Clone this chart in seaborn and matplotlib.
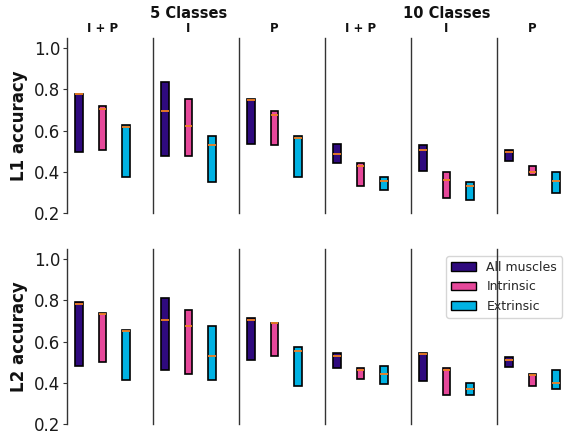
import matplotlib
matplotlib.use("Agg")
import matplotlib.pyplot as plt
from matplotlib.patches import Patch
import seaborn as sns
import pandas as pd

# Muscle groups and their colours
muscles = ["All muscles", "Intrinsic", "Extrinsic"]
colors = ["#2f0a7e", "#e6489a", "#00b2e3"]

# Column groups: number of classes and feature set
class_groups = ["5 Classes", "10 Classes"]
feature_sets = ["I + P", "I", "P"]
metrics = ["L1 accuracy", "L2 accuracy"]

# Accuracy ranges per panel (order: 5C I+P, 5C I, 5C P, 10C I+P, 10C I, 10C P),
# each a list over muscles [All, Intrinsic, Extrinsic]
l1_low = [[0.494, 0.506, 0.376], [0.478, 0.478, 0.353], [0.535, 0.528, 0.376],
          [0.442, 0.333, 0.311], [0.405, 0.273, 0.265], [0.454, 0.385, 0.296]]
l1_med = [[0.776, 0.706, 0.618], [0.696, 0.624, 0.528], [0.751, 0.677, 0.566],
          [0.486, 0.429, 0.356], [0.504, 0.362, 0.332], [0.496, 0.399, 0.356]]
l1_high = [[0.780, 0.719, 0.626], [0.836, 0.755, 0.574], [0.756, 0.696, 0.574],
           [0.537, 0.442, 0.374], [0.528, 0.397, 0.353], [0.507, 0.428, 0.397]]

l2_low = [[0.480, 0.500, 0.413], [0.464, 0.443, 0.413], [0.513, 0.532, 0.384],
          [0.471, 0.421, 0.393], [0.410, 0.342, 0.342], [0.477, 0.385, 0.371]]
l2_med = [[0.781, 0.734, 0.652], [0.703, 0.674, 0.532], [0.703, 0.690, 0.553],
          [0.532, 0.464, 0.444], [0.540, 0.463, 0.371], [0.513, 0.437, 0.400]]
l2_high = [[0.792, 0.740, 0.655], [0.812, 0.755, 0.674], [0.713, 0.693, 0.574],
           [0.545, 0.471, 0.482], [0.545, 0.471, 0.401], [0.524, 0.444, 0.463]]

yticks = [0.2, 0.4, 0.6, 0.8, 1.0]

ranges = {
    "L1 accuracy": (l1_low, l1_med, l1_high),
    "L2 accuracy": (l2_low, l2_med, l2_high),
}


def panel_frame(low, med, high):
    # Five-point samples whose quartiles are the range ends and whose median is med
    rows = []
    for m, lo, md, hi in zip(muscles, low, med, high):
        for v in (lo, lo, md, hi, hi):
            rows.append({"muscle": m, "acc": v})
    return pd.DataFrame(rows)


sns.set_style("white")
plt.rcParams["font.family"] = ["DejaVu Sans"]

W, H = 565, 434
fig = plt.figure(figsize=(W / 100, H / 100), dpi=100)

ax_left = 67
ax_w = 86
rows_px = [(38, 213), (249, 424)]
xlim = (-0.51, 3.15)
# Axes fraction of the middle box centre, where the headers sit
mid_frac = (1 - xlim[0]) / (xlim[1] - xlim[0])

axes = []
for r, metric in enumerate(metrics):
    top, bottom = rows_px[r]
    row_axes = []
    for c in range(6):
        ax = fig.add_axes([(ax_left + c * ax_w) / W, 1 - bottom / H,
                           ax_w / W, (bottom - top) / H])
        ax.set_facecolor("none")
        low, med, high = ranges[metric]
        df = panel_frame(low[c], med[c], high[c])
        sns.boxplot(data=df, x="muscle", y="acc", hue="muscle",
                    order=muscles, hue_order=muscles, palette=colors,
                    saturation=1, width=0.33, whis=0, showcaps=False,
                    showfliers=False, legend=False, linecolor="black",
                    linewidth=1.2,
                    medianprops=dict(color="#f07f22", linewidth=1.3),
                    whiskerprops=dict(linewidth=0), ax=ax)
        ax.set_xlim(*xlim)
        ax.set_ylim(0.2, 1.05)
        ax.set_xticks([])
        ax.set_xlabel("")
        for s in ("top", "right", "bottom"):
            ax.spines[s].set_visible(False)
        ax.spines["left"].set_color("#333333")
        ax.spines["left"].set_linewidth(1.0)
        if c == 0:
            ax.set_yticks(yticks)
            ax.set_yticklabels([f"{t:.1f}" for t in yticks])
            ax.tick_params(axis="y", labelsize=12, length=3, width=0.8,
                           color="#333333", labelcolor="#1a1a1a", left=True,
                           pad=2)
            ax.set_ylabel(metric, fontsize=12, fontweight="bold", labelpad=4,
                          color="#111111")
        else:
            ax.set_yticks([])
            ax.set_ylabel("")
        if r == 0:
            ax.set_title(feature_sets[c % 3], fontsize=8.5, fontweight="bold",
                         pad=4, color="#111111", x=mid_frac)
        row_axes.append(ax)
    axes.append(row_axes)

# Class-group headers above the middle panel of each group
for g, name in enumerate(class_groups):
    cx = (ax_left + (g * 3 + 1) * ax_w + mid_frac * ax_w) / W
    fig.text(cx, 1 - 13 / H, name, ha="center", va="center",
             fontsize=10.5, fontweight="bold", color="#111111")

handles = [Patch(facecolor=col, edgecolor="black", linewidth=1.0, label=m)
           for m, col in zip(muscles, colors)]
axes[1][4].legend(handles=handles, loc="upper right",
                  bbox_to_anchor=(562 / W, 1 - 256 / H),
                  bbox_transform=fig.transFigure, borderaxespad=0,
                  fontsize=9, frameon=True, framealpha=0.8)

fig.savefig("out.png", dpi=100)
